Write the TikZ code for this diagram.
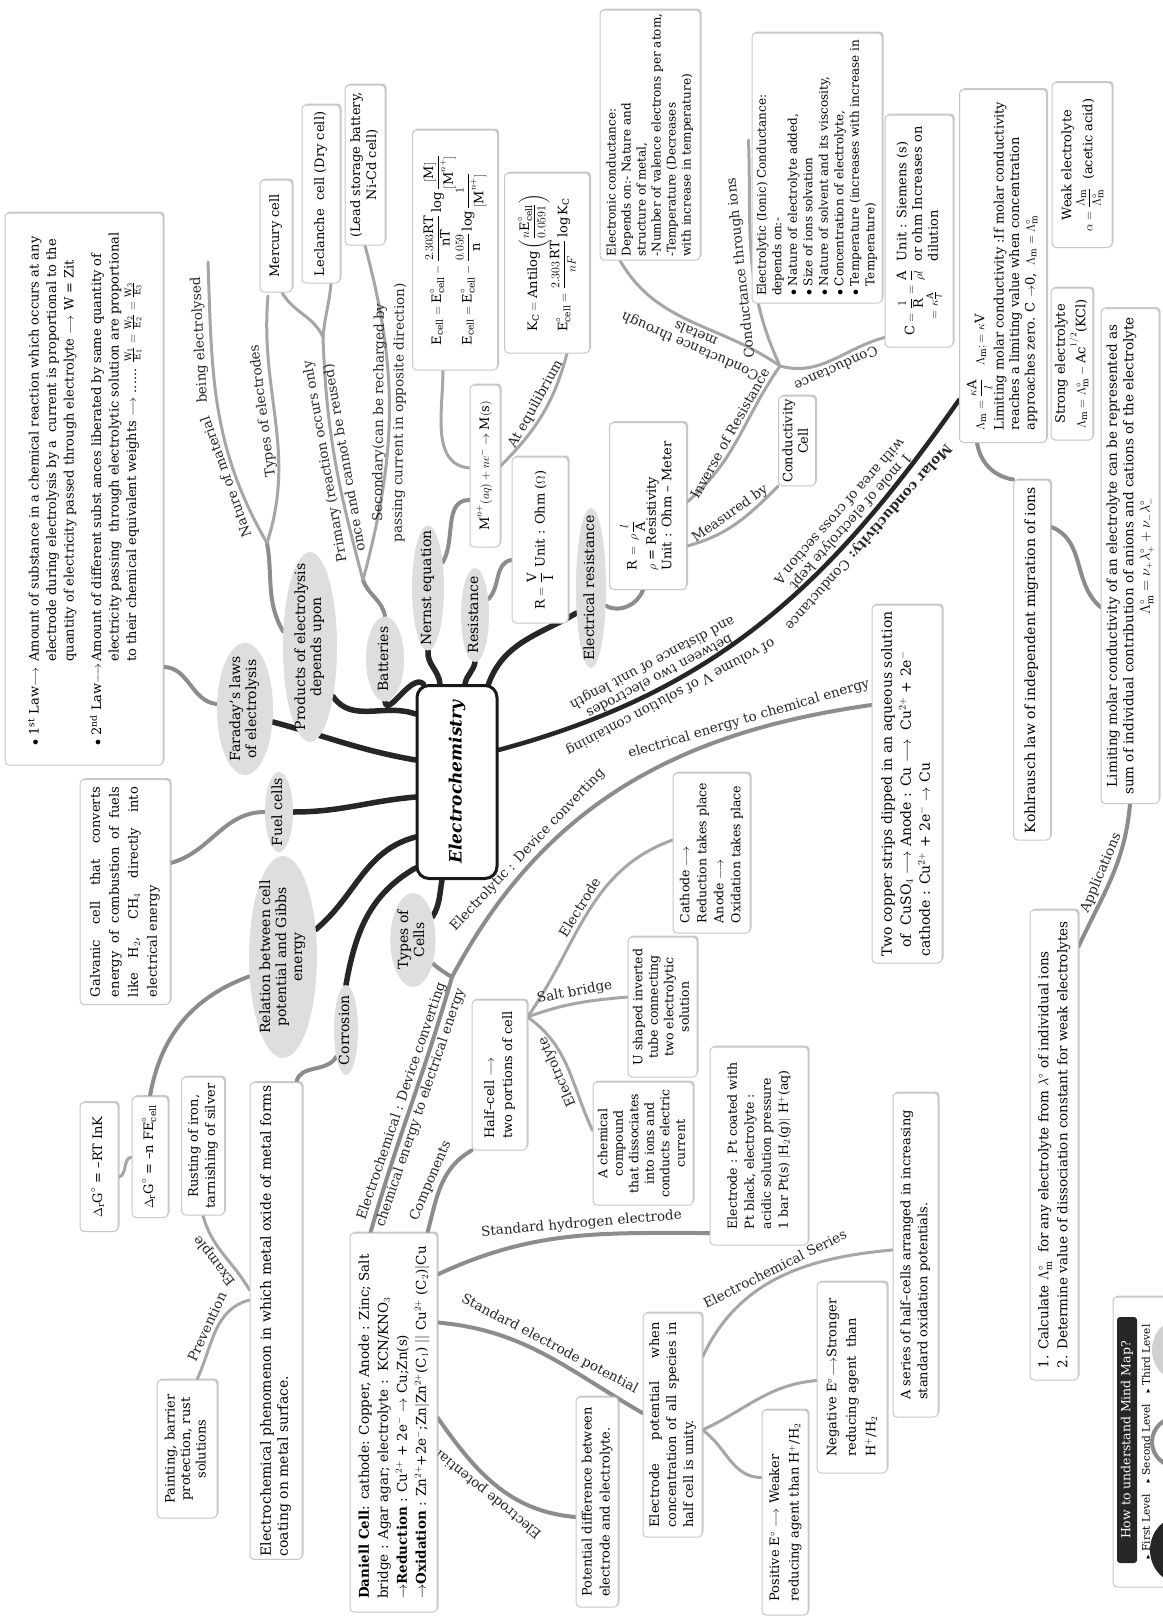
\documentclass[tikz,border=0pt]{standalone}
\usepackage{amsmath,amssymb}
\usepackage{graphicx}
\usepackage{fontspec}
\setmainfont{DejaVu Serif}
\usepackage{tikz}
\usetikzlibrary{shapes.geometric,shadows}

\pgfdeclarelayer{paper}
\pgfdeclarelayer{links}
\pgfsetlayers{paper,links,main}

\newcommand{\lblfont}{\fontsize{13.5}{14}\selectfont}
\newcommand{\vtl}[1]{\rotatebox{90}{\begin{tabular}{@{}l@{}}#1\end{tabular}}}
\newcommand{\vtc}[1]{\rotatebox{90}{\begin{tabular}{@{}c@{}}#1\end{tabular}}}
\newcommand{\vte}[1]{\rotatebox{90}{\makebox[0pt]{\begin{tabular}{@{}c@{}}#1\end{tabular}}}}

\begin{document}
\begin{tikzpicture}[x=1pt, y=1pt,
  hub/.style={draw=black!90, line width=3pt, rounded corners=12pt, fill=white,
              inner sep=0pt, font=\fontsize{17}{17}\selectfont\bfseries\itshape},
  lvl/.style={ellipse, fill=black!13, inner sep=0pt, font=\fontsize{14}{16}\selectfont},
  leaf/.style={draw=black!22, line width=1pt, fill=white, rounded corners=4pt,
               inner sep=3pt, font=\fontsize{13}{15.5}\selectfont,
               drop shadow={shadow xshift=1.5pt, shadow yshift=1.5pt, fill=black!35, opacity=.6}},
  legbar/.style={fill=black!85, rounded corners=3pt, text=white, inner sep=2pt,
                 font=\fontsize{12.5}{12.5}\selectfont},
  b1/.style={draw=black!85, line width=5.5pt, line cap=round},
  b2/.style={draw=black!45, line width=4pt, line cap=round},
  b3/.style={draw=black!35, line width=3pt, line cap=round},
  lab/.style={sloped, allow upside down, font=\lblfont, text=black!85, inner sep=1pt}]

\useasboundingbox (0,0) rectangle (1162,-1617);
\begin{pgfonlayer}{paper}
\fill[white] (0,0) rectangle (1162,-1617);
\end{pgfonlayer}

% central topic
\node[hub, minimum width=80, minimum height=193] (ec) at (457,-782) {\rotatebox{90}{Electrochemistry}};

% first level
\node[lvl, minimum width=56, minimum height=132] (far)   at (245,-709)  {\vte{Faraday's laws\\of electrolysis}};
\node[lvl, minimum width=54, minimum height=190] (prod)  at (310,-647)  {\vte{Products of electrolysis\\depends upon}};
\node[lvl, minimum width=38, minimum height=85]  (batt)  at (385,-659)  {\vte{Batteries}};
\node[lvl, minimum width=32, minimum height=125] (nern)  at (428,-588)  {\vte{Nernst equation}};
\node[lvl, minimum width=28, minimum height=94]  (resi)  at (475,-615)  {\vte{Resistance}};
\node[lvl, minimum width=30, minimum height=160] (eres)  at (591,-588)  {\vte{Electrical resistance}};
\node[lvl, minimum width=28, minimum height=80]  (fuel)  at (279,-812)  {\vte{Fuel cells}};
\node[lvl, minimum width=64, minimum height=202] (rel)   at (283,-957)  {\vte{Relation between cell\\potential and Gibbs\\energy}};
\node[lvl, minimum width=24, minimum height=90]  (corr)  at (346,-1030) {\vte{Corrosion}};
\node[lvl, minimum width=40, minimum height=94]  (tcell) at (413,-940)  {\vte{Types of\\Cells}};

% Faraday and products
\node[leaf, font=\fontsize{13}{17.5}\selectfont, minimum width=158, minimum height=552] (laws) at (84,-489)
  {\rotatebox{90}{\begin{tabular}{@{}l@{\,}l@{}}
   $\bullet$ 1\textsuperscript{st} Law$\longrightarrow$ & Amount of substance in a chemical reaction which occurs at any\\
   & electrode during electrolysis by a\ \ current is proportional to the\\
   & quantity of electricity passed through electrolyte $\longrightarrow$ W = Zit\\[10pt]
   $\bullet$ 2\textsuperscript{nd} Law$\longrightarrow$ & Amount of different subst ances liberated by same quantity of\\
   & electricity passing\ \ through electrolytic solution are proportional\\
   & to their chemical equivalent weights $\longrightarrow$ ...... $\frac{\mathrm{W_1}}{\mathrm{E_1}}=\frac{\mathrm{W_2}}{\mathrm{E_2}}=\frac{\mathrm{W_3}}{\mathrm{E_3}}$
  \end{tabular}}};
\node[leaf, minimum width=32, minimum height=112] (merc) at (276,-236) {\vtc{Mercury cell}};
\node[leaf, minimum width=38, minimum height=178] (lecl) at (321,-194) {\vtc{Leclanche\ \ cell (Dry cell)}};
\node[leaf, font=\fontsize{13}{16}\selectfont, minimum width=40, minimum height=160] (lead) at (365,-165)
  {\vtc{(Lead storage battery,\\Ni-Cd cell)}};

% Nernst and resistance
\node[leaf, minimum width=30, minimum height=162] (mred) at (485,-466)
  {\vtc{$\mathrm{M}^{n+}(aq)+ne^{-}\rightarrow\mathrm{M(s)}$}};
\node[leaf, minimum width=85, minimum height=240] (ecell) at (455,-250)
  {\vtl{$\mathrm{E_{cell}}=\mathrm{E^{\circ}_{cell}}-\dfrac{2.303\mathrm{RT}}{\mathrm{nT}}\log\dfrac{[\mathrm{M}]}{[\mathrm{M}^{n+}]}$\\[6pt]
        $\mathrm{E_{cell}}=\mathrm{E^{\circ}_{cell}}-\dfrac{0.059}{\mathrm{n}}\log\dfrac{1}{[\mathrm{M}^{n+}]}$}};
\node[leaf, minimum width=85, minimum height=180] (kc) at (547,-263)
  {\vtl{$\mathrm{K_C=Antilog}\left(\dfrac{n\mathrm{E^{\circ}_{cell}}}{0.0591}\right)$\\[6pt]
        $\mathrm{E^{\circ}_{cell}}=\dfrac{2.303\,\mathrm{RT}}{nF}\log\mathrm{K_C}$}};
\node[leaf, minimum width=56, minimum height=166] (rvi) at (540,-540)
  {\vtl{$\mathrm{R}=\dfrac{\mathrm{V}}{\mathrm{I}}$ Unit : Ohm ($\Omega$)}};
\node[leaf, minimum width=77, minimum height=167] (rrho) at (648,-506)
  {\vtl{$\mathrm{R}\,=\,\rho\,\dfrac{l}{\mathrm{A}}$\\$\rho$ = Resistivity\\Unit : Ohm -- Meter}};

% conductance
\node[leaf, font=\fontsize{12}{15}\selectfont, minimum width=100, minimum height=250] (econd) at (650,-135)
  {\vtl{Electronic conductance:\\Depends on:- Nature and\\structure of metal,\\-Number of valence electrons per atom,\\-Temperature (Decreases\\with increase in temperature)}};
\node[leaf, font=\fontsize{12}{15.5}\selectfont, minimum width=130, minimum height=270] (icond) at (817,-168)
  {\vtl{Electrolytic (Ionic) Conductance:\\depends on:-\\$\bullet$ Nature of electrolyte added,\\$\bullet$ Size of ions solvation\\
        $\bullet$ Nature of solvent and its viscosity,\\$\bullet$ Concentration of electrolyte,\\
        $\bullet$ Temperature (increases with increase in\\\phantom{$\bullet$} Temperature)}};
\node[leaf, minimum width=68, minimum height=232] (cbox) at (919,-231)
  {\rotatebox{90}{\begin{tabular}{@{}l@{\ \ }l@{}}
   \smash{\raisebox{-8pt}{$\mathrm{C}=\dfrac{1}{\mathrm{R}}=\dfrac{\mathrm{A}}{\rho l}$}} & Unit : Siemens (s)\\
   & or ohm Increases on\\
   \hspace{16pt}$=\kappa\tfrac{\mathrm{A}}{l}$ & dilution
  \end{tabular}}};
\node[leaf, minimum width=37, minimum height=88] (ccell) at (797,-441) {\vtc{Conductivity\\Cell}};

% molar conductivity
\node[leaf, minimum width=87, minimum height=353] (lam) at (1003,-266)
  {\vtl{$\Lambda_{\mathrm{m}}=\dfrac{\kappa\mathrm{A}}{l}$\quad$\Lambda_{\mathrm{m}};=\kappa\mathrm{V}$\\
        Limiting molar conductivity :If molar conductivity\\reaches a limiting value when concentration\\
        approaches zero. C $\rightarrow$0,\ \ $\Lambda_{\mathrm{m}}=\Lambda^{\circ}_{\mathrm{m}}$}};
\node[leaf, minimum width=60, minimum height=165] (weak) at (1082,-165)
  {\vtc{Weak electrolyte\\$\alpha=\dfrac{\Lambda_{\mathrm{m}}}{\Lambda^{\circ}_{\mathrm{m}}}$\ \ (acetic acid)}};
\node[leaf, minimum width=40, minimum height=152] (strong) at (1072,-364)
  {\vtc{Strong electrolyte\\$\Lambda_{\mathrm{m}}=\Lambda^{\circ}_{\mathrm{m}}-\mathrm{Ac}^{1/2}$(KCl)}};
\node[leaf, font=\fontsize{14}{16}\selectfont, minimum width=37, minimum height=360] (kohl) at (1032,-660)
  {\vtc{Kohlrausch law of independent migration of ions}};
\node[leaf, font=\fontsize{13.5}{16.5}\selectfont, minimum width=58, minimum height=495] (limit) at (1130,-556)
  {\vtc{Limiting molar conductivity of an electrolyte can be represented as\\
        sum of individual contribution of anions and cations of the electrolyte\\
        $\Lambda^{\circ}_{\mathrm{m}}=\nu_{+}\lambda^{\circ}_{+}+\nu_{-}\lambda^{\circ}_{-}$}};
\node[leaf, font=\fontsize{13.5}{19}\selectfont, minimum width=48, minimum height=470] (calc) at (1054,-1145)
  {\vtl{1. Calculate $\Lambda^{\circ}_{\mathrm{m}}$\ \ for any electrolyte from $\lambda^{\circ}$ of individual ions\\
        2. Determine value of dissociation constant for weak electrolytes}};

% fuel cells, Gibbs energy, corrosion
\node[leaf, font=\fontsize{13}{19}\selectfont, minimum width=90, minimum height=225] (galv) at (125,-892)
  {\rotatebox{90}{\parbox{210pt}{Galvanic cell that converts\linebreak energy of combustion of fuels\linebreak
   like H$_2$, CH$_4$ directly into\linebreak electrical energy}}};
\node[leaf, minimum width=38, minimum height=129] (dgk) at (99,-1167)
  {\vtc{$\Delta_{\mathrm{r}}\mathrm{G}^{\circ}$ = --RT InK}};
\node[leaf, minimum width=36, minimum height=121] (dge) at (150,-1157)
  {\vtc{$\Delta_{\mathrm{r}}\mathrm{G}^{\circ}$ = --n FE$^{\circ}_{\mathrm{cell}}$}};
\node[leaf, font=\fontsize{13}{17}\selectfont, minimum width=43, minimum height=138] (rust) at (203,-1146)
  {\vtc{Rusting of iron,\\tarnishing of silver}};
\node[leaf, font=\fontsize{14}{17}\selectfont, minimum width=52, minimum height=472] (corbox) at (276,-1321)
  {\vtl{Electrochemical phenomenon in which metal oxide of metal forms\\coating on metal surface.}};
\node[leaf, minimum width=60, minimum height=138] (paint) at (187,-1449)
  {\vtc{Painting, barrier\\protection, rust\\solutions}};

% cells
\node[leaf, font=\fontsize{14}{19}\selectfont, minimum width=70, minimum height=358] (copper) at (907,-784)
  {\vtl{Two copper strips dipped in an aqueous solution\\
        \ \ of\ \ CuSO$_4$ $\longrightarrow$ Anode : Cu $\longrightarrow$\ \ Cu$^{2+}$ + 2e$^{-}$\\
        cathode : Cu$^{2+}$ + 2e$^{-}$ $\rightarrow$ Cu}};
\node[leaf, font=\fontsize{13.5}{19}\selectfont, minimum width=87, minimum height=379] (daniell) at (393.5,-1422.5)
  {\vtl{\textbf{Daniell Cell}: cathode: Copper, Anode : Zinc; Salt\\
        bridge : Agar agar; electrolyte :\ \ KCN/KNO$_3$\\
        $\rightarrow$\textbf{Reduction} : Cu$^{2+}$\ + 2e$^{-}$ $\rightarrow$ Cu;Zn(s)\\
        $\rightarrow$\textbf{Oxidation} : Zn$^{2+}$+2e$^{-}$;Zn$|$Zn$^{2+}$(C$_1$) $||$ Cu$^{2+}$ (C$_2$)$|$Cu}};
\node[leaf, font=\fontsize{13}{18}\selectfont, minimum width=55, minimum height=150] (halfc) at (499.5,-1075)
  {\vtl{Half--cell $\longrightarrow$\\two portions of cell}};
\node[leaf, font=\fontsize{12.5}{17}\selectfont, minimum width=77, minimum height=160] (cath) at (711.5,-853)
  {\vtl{Cathode $\longrightarrow$\\Reduction takes place\\Anode $\longrightarrow$\\Oxidation takes place}};
\node[leaf, font=\fontsize{12.5}{15.5}\selectfont, minimum width=69, minimum height=140] (ubox) at (662.5,-1007)
  {\vtc{U shaped inverted\\tube connecting\\two electrolytic\\solution}};
\node[leaf, font=\fontsize{12.5}{15.5}\selectfont, minimum width=100, minimum height=123] (chem) at (643,-1143.5)
  {\vtc{A chemical\\compound\\that dissociates\\into ions and\\conducts electric\\current}};
\node[leaf, font=\fontsize{12.5}{17}\selectfont, minimum width=98, minimum height=198] (pt) at (759,-1146)
  {\vtl{Electrode : Pt coated with\\Pt black, electrolyte :\\acidic solution pressure\\1 bar Pt(s) $|$H$_2$(g)$|$ H$^{+}$(aq)}};

% electrode potential
\node[leaf, font=\fontsize{13}{17}\selectfont, minimum width=59, minimum height=224] (epot) at (672.5,-1425)
  {\rotatebox{90}{\parbox{205pt}{Electrode potential when\linebreak concentration of all species in\linebreak half cell is unity.}}};
\node[leaf, font=\fontsize{13}{18}\selectfont, minimum width=40, minimum height=210] (pdiff) at (597,-1502)
  {\vtl{Potential difference between\\electrode and electrolyte.}};
\node[leaf, font=\fontsize{13}{17}\selectfont, minimum width=45, minimum height=324] (series) at (915.5,-1255)
  {\vtl{A series of half--cells arranged in increasing\\standard oxidation potentials.}};
\node[leaf, font=\fontsize{13}{19.5}\selectfont, minimum width=70, minimum height=191] (neg) at (852,-1377.5)
  {\vtl{Negative E$^{\circ}\!\longrightarrow$Stronger\\reducing agent\ \ than\\H$^{+}$/H$_2$}};
\node[leaf, font=\fontsize{13}{19.5}\selectfont, minimum width=46, minimum height=205] (pos) at (785,-1512.5)
  {\vtl{Positive E$^{\circ}$ $\longrightarrow$ Weaker\\reducing agent than H$^{+}$/H$_2$}};

% legend
\node[leaf, minimum width=80, minimum height=290] (legend) at (1153,-1442) {};
\node[legbar, minimum width=20, minimum height=246] (leghead) at (1127,-1440)
  {\rotatebox{90}{How to understand Mind Map?}};
\node[inner sep=0pt, font=\fontsize{10.5}{10.5}\selectfont] (leglevel) at (1146,-1442)
  {\rotatebox{90}{\scalebox{.6}{$\blacktriangleright$} First Level\quad\scalebox{.6}{$\blacktriangleright$} Second Level\quad\scalebox{.6}{$\blacktriangleright$} Third Level}};
\fill[black!85] (1180,-1550) ellipse (30 and 33);
\draw[black!45, line width=4pt] (1178,-1442) ellipse (26 and 25);
\fill[black!18] (1178,-1350) ellipse (26 and 30);

% branch points
\coordinate (pb)     at (267,-543);
\coordinate (natend) at (208,-262);
\coordinate (typend) at (268,-296);
\coordinate (bb)     at (363,-580);
\coordinate (pj)     at (323,-337);
\coordinate (cj)     at (780,-366);
\coordinate (tj)     at (452,-977);

\begin{pgfonlayer}{links}
% first level
\draw[b1] (far.-25) to[out=-15, in=170] ([yshift=22pt]ec.west);
\draw[b1] (prod.-65) to[out=-55, in=160] ([yshift=-30pt]ec.north west);
\draw[b1] (batt.south) to[out=-80, in=135] ([xshift=8pt]ec.north west);
\draw[b1] (nern.south) to[out=-95, in=95] ([xshift=-17pt]ec.north);
\draw[b1] (resi.south) to[out=-100, in=80] ([xshift=8pt]ec.north);
\draw[b1] (eres.-120) to[out=-150, in=70] ([xshift=-10pt]ec.north east);
\draw[b1] (fuel.east) to[out=0, in=185] ([yshift=-15pt]ec.west);
\draw[b1] (rel.40) to[out=40, in=195] ([yshift=-55pt]ec.west);
\draw[b1] (corr.north) to[out=80, in=210] ([yshift=12pt]ec.south west);
\draw[b1] (tcell.50) to[out=60, in=-100] ([xshift=-15pt]ec.south);
\draw[b1, line width=4.5pt] ([yshift=43pt]lam.south west) to[out=-125, in=15]
    node[lab, pos=.26, above=2pt] {\bfseries Molar conductivity: \mdseries Conductance}
    node[lab, pos=.26, below=2pt] {1 mole of electrolyte kept}
    node[lab, pos=.26, below=17pt] {with area of cross section A}
    node[lab, pos=.71, above=2pt] {of volume V of solution containing}
    node[lab, pos=.71, below=2pt] {between two electrodes}
    node[lab, pos=.71, below=17pt] {and distance of unit length}
  ([yshift=32pt]ec.east);

% Faraday and products
\draw[b2] (far.170) to[out=175, in=0] ([yshift=-178pt]laws.east);
\draw[b2] (prod.150) to[out=120, in=-80] (pb);
\draw[b3] (pb) to[out=120, in=-88]
    node[lab, pos=.25, above=2pt] {Nature of material}
    node[lab, pos=.75, above=2pt] {being electrolysed} (natend);
\draw[b3] (pb) to[out=72, in=-95] node[lab, pos=.55, above=2pt] {Types of electrodes} (typend);

% batteries
\draw[b2] (batt.north) to[out=100, in=-70] (bb);
\draw[b3] (bb) to[out=105, in=-88]
    node[lab, align=center] {Primary (reaction occurs only\\[6pt]once and cannot be reused)} (pj);
\draw[b3] (pj) to[out=115, in=-60] ([xshift=6pt]merc.south);
\draw[b3] (pj) to[out=85, in=-95] ([xshift=10pt]lecl.south);
\draw[b3] (bb) to[out=75, in=-75]
    node[lab, align=center] {Secondary(can be recharged by\\[6pt]passing current in opposite direction)} (lead.south);

% Nernst equation
\draw[b2] (nern.60) to[out=60, in=180] ([yshift=-34pt]mred.west);
\draw[b3] ([xshift=-12pt]ecell.south) to[out=-90, in=175] ([yshift=-2pt]mred.west);
\draw[b3] (mred.east) to[out=45, in=-105] node[lab, pos=.55, above=2pt] {At equilibrium} ([xshift=20pt]kc.south);

% resistance and conductance
\draw[b2] (resi.50) to[out=45, in=190] ([yshift=-20pt]rvi.west);
\draw[b2] (eres.-50) to[out=-30, in=-110] ([xshift=-5pt]rrho.south);
\draw[b3] ([yshift=4pt]rrho.east) to[out=40, in=-125] node[lab, above=2pt] {Inverse of Resistance} (cj);
\draw[b3] ([yshift=-40pt]rrho.east) to[out=15, in=-135] node[lab, above=2pt] {Measured by} (ccell.south west);
\draw[b3] (cj) to[out=145, in=-60]
    node[lab, pos=.45, above=2pt, align=center] {Conductance through\\metals} ([xshift=-30pt]econd.south);
\draw[b3] (cj) to[out=115, in=-88]
    node[lab, pos=.45, above=2pt] {Conductance through ions} ([xshift=-3pt, yshift=28pt]icond.west);
\draw[b3] ([yshift=10pt]cbox.south west) to[out=195, in=-15] node[lab, above=2pt] {Conductance} (cj);

% Kohlrausch
\draw[b2] ([xshift=-26pt]lam.south) to[out=-80, in=170] (kohl.north west);
\draw[b2] ([yshift=133pt]kohl.east) to[out=-20, in=140] ([yshift=-51pt]limit.west);
\draw[b2] ([yshift=-37pt]calc.north east) to[out=65, in=-95] node[lab, above=2pt] {Applications} (limit.south);

% fuel cells, Gibbs energy, corrosion
\draw[b2] (fuel.west) to[out=180, in=15] ([yshift=29pt]galv.east);
\draw[b2] (rel.-150) to[out=200, in=80] (dge.north);
\draw[b3] ([yshift=-10pt]dgk.east) to[out=10, in=190] (dge.west);
\draw[b2] (corr.-110) to[out=-120, in=80] ([xshift=-6pt]corbox.north east);
\draw[b3] ([yshift=31pt]corbox.west) to[out=120, in=-75] node[lab, above=2pt] {Example} (rust.south);
\draw[b3] ([xshift=10pt]paint.north) to[out=65, in=195] node[lab, above=2pt] {Prevention} ([yshift=21pt]corbox.west);

% types of cells
\draw[b2] (tcell.-50) to[out=-40, in=150] (tj);
\draw[b2] ([xshift=-23pt]daniell.north) to[out=74, in=-106]
    node[lab, align=center] {Electrochemical : Device converting\\[6pt]chemical energy to electrical energy} (tj);
\draw[b2] (tj) to[out=62, in=188]
    node[lab, pos=.27, above=2pt] {Electrolytic : Device converting}
    node[lab, pos=.78, above=2pt] {electrical energy to chemical energy} ([yshift=79pt]copper.west);
\draw[b2] ([xshift=34pt]daniell.north) to[out=75, in=-150] node[lab, above=2pt] {Components} (halfc.south west);
\draw[b3] ([yshift=58pt]halfc.east) to[out=55, in=200] node[lab, above=2pt] {Electrode} ([yshift=13pt]cath.west);
\draw[b3] ([yshift=58pt]halfc.east) to[out=20, in=185] node[lab, above=2pt] {Salt bridge} ([yshift=10pt]ubox.west);
\draw[b3] ([yshift=13pt]chem.west) to[out=115, in=-35] node[lab, above=2pt] {Electrolyte} ([yshift=58pt]halfc.east);

% electrode potential
\draw[b2] ([yshift=148pt]daniell.east) to[out=25, in=180]
    node[lab, pos=.55, above=2pt] {Standard hydrogen electrode} ([yshift=-87pt]pt.west);
\draw[b2] ([yshift=100pt]daniell.east) to[out=-5, in=150]
    node[lab, above=2pt] {Standard electrode potential} ([yshift=12pt]epot.west);
\draw[b2] ([yshift=-15pt]pdiff.west) to[out=175, in=-55]
    node[lab, above=2pt] {Electrode potential} ([yshift=5pt]daniell.east);
\draw[b3] ([yshift=68pt]epot.east) to[out=65, in=185]
    node[lab, above=2pt] {Electrochemical Series} ([yshift=5pt]series.west);
\draw[b3] ([yshift=-5pt]epot.east) to[out=25, in=185] ([yshift=-3pt]neg.west);
\draw[b3] ([yshift=-5pt]epot.east) to[out=-35, in=180] ([yshift=35pt]pos.west);
\end{pgfonlayer}
\end{tikzpicture}
\end{document}
